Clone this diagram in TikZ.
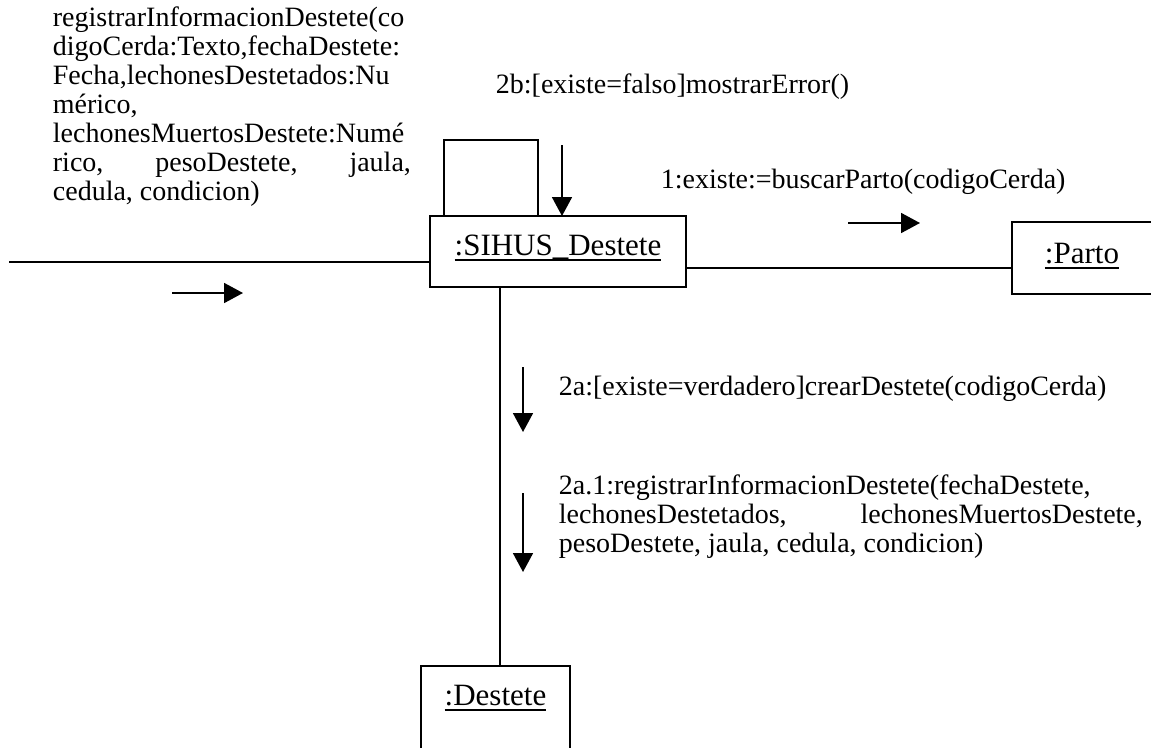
\documentclass[tikz,border=0pt]{standalone}
\usepackage{fontspec}
\setmainfont{Liberation Serif}
\usetikzlibrary{arrows.meta}
\newcommand{\objul}[1]{\setbox0\hbox{#1}\rlap{\rule[-6pt]{\wd0}{2.4pt}}\box0}
\begin{document}
\begin{tikzpicture}[x=1pt,y=-1pt,line width=1.8pt,
  objbox/.style={inner sep=0pt, font=\fontsize{31}{36}\selectfont, anchor=base},
  msg/.style={inner sep=0pt, anchor=base west, font=\fontsize{28}{29}\selectfont},
  msgarrow/.style={-{Triangle[length=19pt,width=20pt]}}]
\useasboundingbox (0,0) rectangle (1151,747);
% objects
\node[objbox, draw, minimum width=256pt, text height=39pt, text depth=32pt] (sihus) at (558,255) {\objul{:SIHUS\_Destete}};
\node[objbox, minimum width=138pt, text height=40pt, text depth=30pt] (parto) at (1082,263) {\objul{:Parto}};
\draw (parto.north east) -- (parto.north west) -- (parto.south west) -- (parto.south east);
\node[objbox, minimum width=147pt, text height=38pt, text depth=42pt] (destete) at (495.5,705) {\objul{:Destete}};
\draw (destete.south west) -- (destete.north west) -- (destete.north east) -- (destete.south east);
% links
\coordinate (inEnd) at (9,262);
\draw (inEnd) -- (inEnd -| sihus.west);
\coordinate (rY) at (0,268);
\draw (rY -| sihus.east) -- (rY -| parto.west);
\coordinate (vX) at (500,0);
\draw (vX |- sihus.south) -- (vX |- destete.north);
\draw ([xshift=15pt]sihus.north west) -- ++(0,-75) -- ++(94,0) -- ++(0,75);
% message arrows
\draw[msgarrow] (562,145) -- (562,216);
\draw[msgarrow] (848,223) -- (920,223);
\draw[msgarrow] (172,293) -- (243,293);
\draw[msgarrow] (523,367) -- (523,432);
\draw[msgarrow] (523,493) -- (523,572);
% messages
\node[msg] (m0) at (52,26) {\parbox[t]{358pt}{\lineskiplimit=-100pt registrarInformacionDestete(co\\digoCerda:Texto,fechaDestete:\\Fecha,lechonesDestetados:Nu\\mérico,\\lechonesMuertosDestete:Numé\\\makebox[358pt][s]{rico,\hfill pesoDestete,\hfill jaula,}\\cedula, condicion)}};
\node[msg] (m2b) at (495,93) {2b:[existe=falso]mostrarError()};
\node[msg] (m1) at (660,188) {1:existe:=buscarParto(codigoCerda)};
\node[msg] (m2a) at (558,395) {2a:[existe=verdadero]crearDestete(codigoCerda)};
\node[msg] (m2a1) at (558,494) {\parbox[t]{584pt}{\lineskiplimit=-100pt 2a.1:registrarInformacionDestete(fechaDestete,\\\makebox[584pt][s]{lechonesDestetados,\hfill lechonesMuertosDestete,}\\pesoDestete, jaula, cedula, condicion)}};
\end{tikzpicture}
\end{document}
